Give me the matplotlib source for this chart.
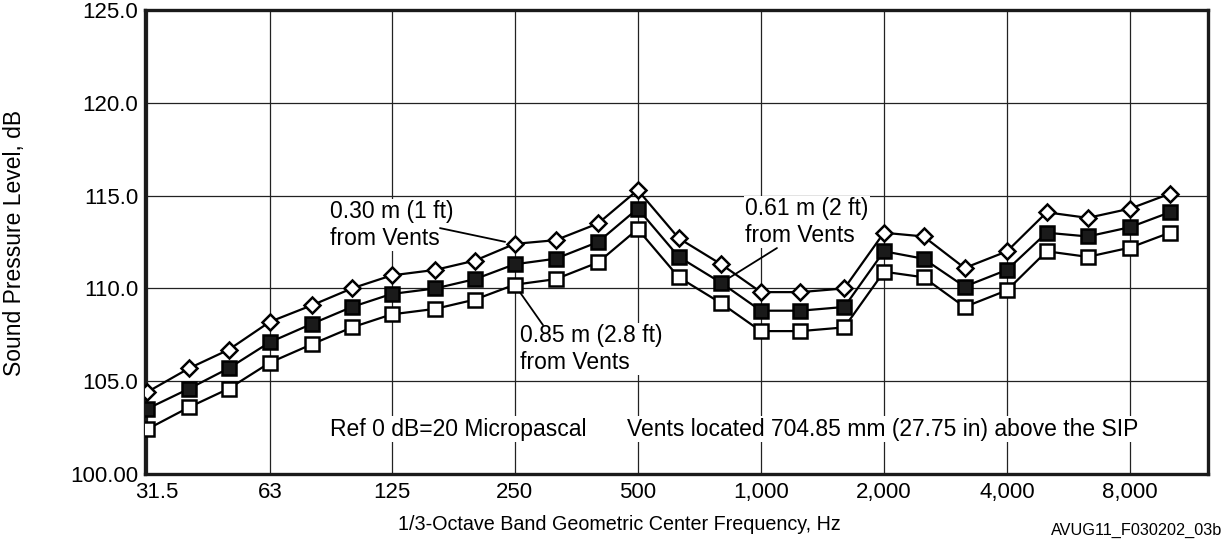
import matplotlib
matplotlib.use('Agg')
import matplotlib.pyplot as plt
import matplotlib.transforms as mtransforms

plt.rcParams['font.family'] = ['Liberation Sans', 'DejaVu Sans']

# 1/3-octave band centre frequencies, Hz
freqs = [31.5, 40, 50, 63, 80, 100, 125, 160, 200, 250, 315, 400, 500,
         630, 800, 1000, 1250, 1600, 2000, 2500, 3150, 4000, 5000, 6300,
         8000, 10000]

# sound pressure level, dB
spl_030m = [104.4, 105.7, 106.7, 108.2, 109.1, 110.0, 110.7, 111.0, 111.5,
            112.4, 112.6, 113.5, 115.3, 112.7, 111.3, 109.8, 109.8, 110.0,
            113.0, 112.8, 111.1, 112.0, 114.1, 113.8, 114.3, 115.1]
spl_061m = [103.5, 104.6, 105.7, 107.1, 108.1, 109.0, 109.7, 110.0, 110.5,
            111.3, 111.6, 112.5, 114.3, 111.7, 110.3, 108.8, 108.8, 109.0,
            112.0, 111.6, 110.1, 111.0, 113.0, 112.8, 113.3, 114.1]
spl_085m = [102.4, 103.6, 104.6, 106.0, 107.0, 107.9, 108.6, 108.9, 109.4,
            110.2, 110.5, 111.4, 113.2, 110.6, 109.2, 107.7, 107.7, 107.9,
            110.9, 110.6, 109.0, 109.9, 112.0, 111.7, 112.2, 113.0]

x_ticks = [31.5, 63, 125, 250, 500, 1000, 2000, 4000, 8000]
x_tick_labels = ['31.5', '63', '125', '250', '500', '1,000', '2,000', '4,000', '8,000']
y_ticks = [100, 105, 110, 115, 120, 125]
y_tick_labels = ['100.00', '105.0', '110.0', '115.0', '120.0', '125.0']

fig = plt.figure(figsize=(12.31, 5.41), dpi=100)
ax = fig.add_axes([0.1178, 0.1238, 0.8635, 0.8577])

line_kw = dict(color='black', lw=1.6, mew=1.8, mec='black', zorder=3)
ax.plot(freqs, spl_085m, marker='s', ms=9.5, mfc='white', **line_kw)
ax.plot(freqs, spl_061m, marker='s', ms=9.5, mfc='#1a1a1a', **line_kw)
ax.plot(freqs, spl_030m, marker='D', ms=8.5, mfc='white', **line_kw)

ax.set_xscale('log')
ax.set_xlim(31.2, 12400)
ax.set_ylim(100, 125)
ax.set_xticks(x_ticks)
ax.set_xticklabels(x_tick_labels)
ax.minorticks_off()
ax.set_yticks(y_ticks)
ax.set_yticklabels(y_tick_labels)
ax.tick_params(length=0, labelsize=16)
ax.tick_params(axis='y', pad=5)
ax.tick_params(axis='x', pad=6)
# first label sits a bit right of the frame edge
lbl = ax.get_xticklabels()[0]
lbl.set_transform(lbl.get_transform() + mtransforms.ScaledTranslation(0.1, 0, fig.dpi_scale_trans))
ax.grid(True, color='#222222', lw=0.9)
ax.set_axisbelow(True)
for s in ax.spines.values():
    s.set_linewidth(2.4)
    s.set_color('#1a1a1a')

box = dict(facecolor='white', edgecolor='none', pad=1)
txt = dict(fontsize=16.5, transform=ax.transAxes, va='center', ha='left', bbox=box, zorder=4)
ax.text(0.174, 0.537, '0.30 m (1 ft)\nfrom Vents', **txt)
ax.text(0.5644, 0.543, '0.61 m (2 ft)\nfrom Vents', **txt)
ax.text(0.3528, 0.269, '0.85 m (2.8 ft)\nfrom Vents', **txt)
ax.text(0.174, 0.097, 'Ref 0 dB=20 Micropascal', **txt)
ax.text(0.4534, 0.097, 'Vents located 704.85 mm (27.75 in) above the SIP', **txt)

lead = dict(arrowstyle='-', lw=1.3, color='black', shrinkA=0, shrinkB=7)
ax.annotate('', xy=(freqs[9], spl_030m[9]), xytext=(0.2775, 0.530),
            textcoords='axes fraction', arrowprops=lead, zorder=5)
ax.annotate('', xy=(freqs[14], spl_061m[14]), xytext=(0.5945, 0.487),
            textcoords='axes fraction', arrowprops=lead, zorder=5)
ax.annotate('', xy=(freqs[9], spl_085m[9]), xytext=(0.3744, 0.321),
            textcoords='axes fraction', arrowprops=lead, zorder=5)

fig.text(0.503, 0.03, '1/3-Octave Band Geometric Center Frequency, Hz',
         fontsize=14.2, ha='center', va='center')
fig.text(0.012, 0.551, 'Sound Pressure Level, dB', fontsize=16.5,
         rotation=90, ha='center', va='center')
fig.text(0.9927, 0.02, 'AVUG11_F030202_03b', fontsize=11.7, ha='right', va='center')

fig.savefig('out.png', dpi=100)
